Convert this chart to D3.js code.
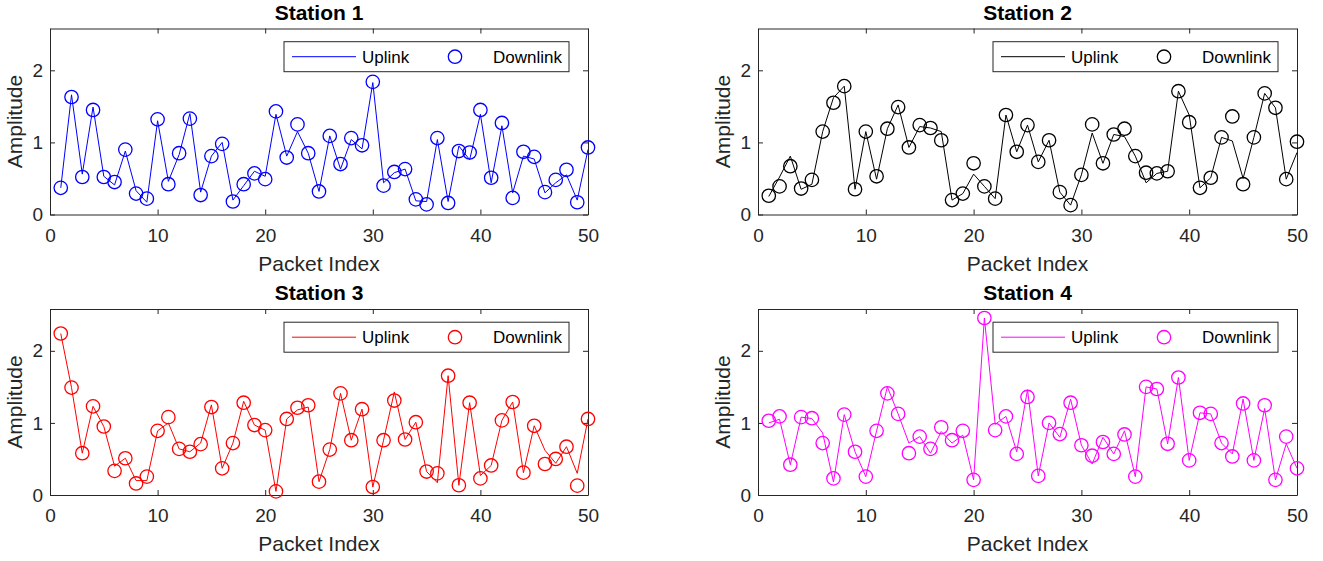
<!DOCTYPE html>
<html>
<head>
<meta charset="utf-8">
<script src="https://cdn.jsdelivr.net/npm/d3@7"></script>
<style>
  body { margin: 0; background: #fff; }
  svg text { font-family: "Liberation Sans", Arial, Helvetica, sans-serif; }
</style>
</head>
<body>
<div id="chart"></div>
<script>
// packet index 1..50
var packetIndex = d3.range(1, 51);

var stationNames = ["Station 1", "Station 2", "Station 3", "Station 4"];
var stationColors = ["#0000ff", "#000000", "#ff0000", "#ff00ff"];

var uplink1 = [0.37,1.66,0.56,1.49,0.53,0.41,0.88,0.33,0.17,1.30,
  0.46,0.83,1.40,0.31,0.81,1.00,0.20,0.40,0.60,0.53,
  1.39,0.81,1.15,0.85,0.32,1.09,0.63,1.04,0.91,1.83,
  0.44,0.58,0.63,0.19,0.18,1.04,0.18,0.95,0.76,1.39,
  0.44,1.23,0.30,0.81,0.77,0.30,0.44,0.55,0.20,0.90];
var downlink1 = [0.37,1.63,0.52,1.45,0.52,0.45,0.90,0.29,0.22,1.32,
  0.42,0.85,1.33,0.27,0.81,0.98,0.18,0.42,0.57,0.49,
  1.43,0.79,1.25,0.85,0.32,1.09,0.70,1.06,0.96,1.84,
  0.40,0.59,0.63,0.21,0.14,1.06,0.16,0.88,0.86,1.45,
  0.51,1.27,0.23,0.87,0.80,0.31,0.48,0.62,0.17,0.93];

var uplink2 = [0.25,0.52,0.81,0.35,0.42,1.15,1.62,1.78,0.35,1.15,
  0.49,1.19,1.52,0.93,1.22,1.20,1.15,0.20,0.29,0.56,
  0.39,0.22,1.38,0.87,1.24,0.73,1.03,0.31,0.13,0.55,
  1.13,0.71,1.11,1.08,0.81,0.44,0.57,0.60,1.71,1.38,
  0.37,0.51,1.07,1.02,0.50,1.07,1.68,1.48,0.49,0.86];
var downlink2 = [0.26,0.39,0.67,0.36,0.48,1.15,1.55,1.78,0.35,1.15,
  0.53,1.19,1.49,0.93,1.24,1.20,1.03,0.20,0.29,0.71,
  0.39,0.22,1.38,0.87,1.24,0.73,1.03,0.31,0.13,0.55,
  1.25,0.71,1.11,1.19,0.81,0.58,0.57,0.60,1.71,1.28,
  0.37,0.51,1.07,1.36,0.42,1.07,1.68,1.48,0.49,1.01];

var uplink3 = [2.24,1.49,0.58,1.23,0.95,0.40,0.51,0.20,0.20,0.89,
  1.00,0.64,0.60,0.72,1.25,0.37,0.72,1.30,0.97,0.90,
  0.05,1.055,1.18,1.22,0.185,0.63,1.41,0.76,1.19,0.11,
  0.76,1.43,0.77,1.01,0.325,0.17,1.655,0.135,1.28,0.27,
  0.41,1.035,1.29,0.31,0.96,0.62,0.44,0.67,0.30,1.055];
var downlink3 = [2.24,1.49,0.58,1.23,0.95,0.335,0.51,0.16,0.255,0.89,
  1.08,0.64,0.60,0.705,1.22,0.37,0.72,1.28,0.97,0.90,
  0.05,1.055,1.21,1.245,0.185,0.63,1.41,0.76,1.19,0.11,
  0.76,1.31,0.77,1.01,0.325,0.30,1.655,0.135,1.28,0.23,
  0.41,1.035,1.29,0.31,0.96,0.43,0.50,0.67,0.13,1.055];

var uplink4 = [1.00,1.05,0.42,1.08,1.06,0.86,0.18,1.115,0.60,0.255,
  0.89,1.50,1.125,0.72,0.81,0.58,0.88,0.72,0.83,0.21,
  2.455,0.98,1.09,0.60,1.46,0.265,1.00,0.80,1.33,0.69,
  0.43,0.80,0.57,0.89,0.255,1.50,1.47,0.71,1.63,0.48,
  1.14,1.125,0.72,0.57,1.33,0.48,1.20,0.21,0.71,0.37];
var downlink4 = [1.03,1.09,0.42,1.08,1.065,0.72,0.23,1.115,0.60,0.255,
  0.89,1.41,1.125,0.58,0.81,0.64,0.94,0.76,0.89,0.21,
  2.455,0.90,1.09,0.57,1.36,0.265,1.00,0.845,1.28,0.69,
  0.545,0.735,0.57,0.84,0.255,1.50,1.47,0.71,1.63,0.48,
  1.14,1.125,0.72,0.535,1.27,0.48,1.245,0.21,0.81,0.37];

var xTicks = [0, 10, 20, 30, 40, 50];
var yTicks = [0, 1, 2];
var xDomain = [0, 50];
var yDomain = [0, 2.58];

var uplinks = [uplink1, uplink2, uplink3, uplink4];
var downlinks = [downlink1, downlink2, downlink3, downlink4];

var W = 1323, H = 561;
var axisColor = "#262626";

// subplot boxes (left, right, top, bottom)
var panels = [
  { l: 50,  r: 588,  t: 28.5, b: 214.5 },
  { l: 758, r: 1297, t: 28.5, b: 214.5 },
  { l: 50,  r: 588,  t: 309,  b: 495 },
  { l: 758, r: 1297, t: 309,  b: 495 }
];

var svg = d3.select("#chart")
  .append("svg")
  .attr("width", W)
  .attr("height", H);

panels.forEach(function(p, k) {
  var x = d3.scaleLinear().domain(xDomain).range([p.l, p.r]);
  var y = d3.scaleLinear().domain(yDomain).range([p.b, p.t]);
  var color = stationColors[k];
  var g = svg.append("g");

  // white plot area
  g.append("rect")
    .attr("x", p.l).attr("y", p.t)
    .attr("width", p.r - p.l).attr("height", p.b - p.t)
    .attr("fill", "#fff");

  // axes
  var xb = g.append("g").attr("transform", "translate(0," + p.b + ")")
    .call(d3.axisBottom(x).tickValues(xTicks).tickFormat(d3.format("d"))
      .tickSizeInner(-5).tickSizeOuter(0).tickPadding(14));
  var xt = g.append("g").attr("transform", "translate(0," + p.t + ")")
    .call(d3.axisTop(x).tickValues(xTicks).tickSizeInner(-5).tickSizeOuter(0).tickFormat(""));
  var yl = g.append("g").attr("transform", "translate(" + p.l + ",0)")
    .call(d3.axisLeft(y).tickValues(yTicks).tickFormat(d3.format("d"))
      .tickSizeInner(-5).tickSizeOuter(0).tickPadding(7));
  var yr = g.append("g").attr("transform", "translate(" + p.r + ",0)")
    .call(d3.axisRight(y).tickValues(yTicks).tickSizeInner(-5).tickSizeOuter(0).tickFormat(""));

  [xb, xt, yl, yr].forEach(function(a) {
    a.select(".domain").attr("stroke", axisColor);
    a.selectAll(".tick line").attr("stroke", axisColor);
    a.selectAll("text").attr("fill", axisColor).style("font-size", "19px");
  });

  // data
  var pts = packetIndex.map(function(d, i) {
    return { i: d, up: uplinks[k][i], down: downlinks[k][i] };
  });

  var line = d3.line()
    .x(function(d) { return x(d.i); })
    .y(function(d) { return y(d.up); });

  g.append("path")
    .datum(pts)
    .attr("d", line)
    .attr("fill", "none")
    .attr("stroke", color)
    .attr("stroke-width", 1);

  g.selectAll(".dl")
    .data(pts)
    .enter().append("circle")
    .attr("class", "dl")
    .attr("cx", function(d) { return x(d.i); })
    .attr("cy", function(d) { return y(d.down); })
    .attr("r", 6.7)
    .attr("fill", "none")
    .attr("stroke", color)
    .attr("stroke-width", 1.3);

  // labels
  g.append("text")
    .attr("x", (p.l + p.r) / 2).attr("y", p.t - 9)
    .attr("text-anchor", "middle")
    .style("font-size", "21px").style("font-weight", "bold")
    .attr("fill", "#000")
    .text(stationNames[k]);

  g.append("text")
    .attr("x", (p.l + p.r) / 2).attr("y", p.b + 56)
    .attr("text-anchor", "middle")
    .style("font-size", "21px")
    .attr("fill", axisColor)
    .text("Packet Index");

  g.append("text")
    .attr("transform", "translate(" + (p.l - 28) + "," + ((p.t + p.b) / 2) + ") rotate(-90)")
    .attr("text-anchor", "middle")
    .style("font-size", "21px")
    .attr("fill", axisColor)
    .text("Amplitude");

  // legend
  var lx = p.r - 304, ly = p.t + 13.2, lw = 285, lh = 30;
  var lg = g.append("g").attr("transform", "translate(" + lx + "," + ly + ")");
  lg.append("rect")
    .attr("width", lw).attr("height", lh)
    .attr("fill", "#fff").attr("stroke", axisColor).attr("stroke-width", 1);
  lg.append("line")
    .attr("x1", 8).attr("x2", 72).attr("y1", lh / 2).attr("y2", lh / 2)
    .attr("stroke", color).attr("stroke-width", 1);
  lg.append("text")
    .attr("x", 78).attr("y", lh / 2 + 6)
    .style("font-size", "17px").attr("fill", "#000")
    .text("Uplink");
  lg.append("circle")
    .attr("cx", 171).attr("cy", lh / 2).attr("r", 6.7)
    .attr("fill", "none").attr("stroke", color).attr("stroke-width", 1.3);
  lg.append("text")
    .attr("x", 209).attr("y", lh / 2 + 6)
    .style("font-size", "17px").attr("fill", "#000")
    .text("Downlink");
});
</script>
</body>
</html>
